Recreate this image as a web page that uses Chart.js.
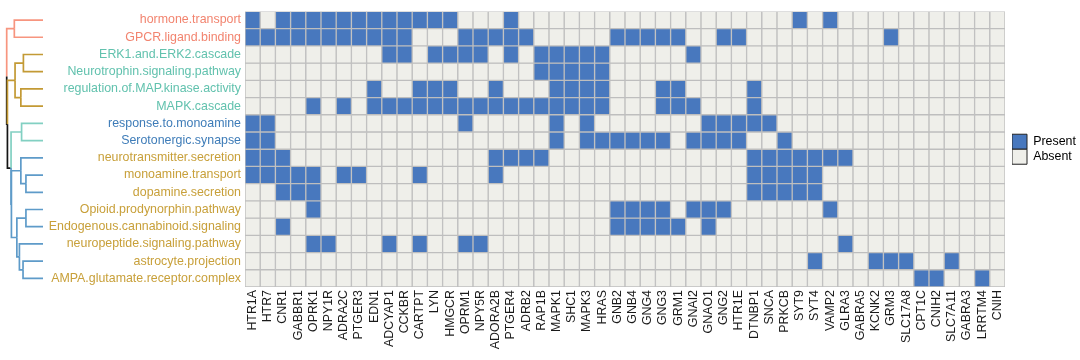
<!DOCTYPE html>
<html>
<head>
<meta charset="utf-8">
<script src="https://cdn.jsdelivr.net/npm/chart.js@4"></script>
<style>
  html, body { margin: 0; padding: 0; background: #fff; }
  #wrap { width: 1080px; height: 360px; }
</style>
</head>
<body>
<div id="wrap"><canvas id="mycanvas"></canvas></div>
<script>
var genes = ['HTR1A', 'HTR7', 'CNR1', 'GABBR1', 'OPRK1', 'NPY1R', 'ADRA2C', 'PTGER3', 'EDN1', 'ADCYAP1',
  'CCKBR', 'CARTPT', 'LYN', 'HMGCR', 'OPRM1', 'NPY5R', 'ADORA2B', 'PTGER4', 'ADRB2', 'RAP1B',
  'MAPK1', 'SHC1', 'MAPK3', 'HRAS', 'GNB2', 'GNB4', 'GNG4', 'GNG3', 'GRM1', 'GNAI2',
  'GNAO1', 'GNG2', 'HTR1E', 'DTNBP1', 'SNCA', 'PRKCB', 'SYT9', 'SYT4', 'VAMP2', 'GLRA3',
  'GABRA5', 'KCNK2', 'GRM3', 'SLC17A8', 'CPT1C', 'CNIH2', 'SLC7A11', 'GABRA3', 'LRRTM4', 'CNIH'];

var pathways = ['hormone.transport', 'GPCR.ligand.binding', 'ERK1.and.ERK2.cascade',
  'Neurotrophin.signaling.pathway', 'regulation.of.MAP.kinase.activity', 'MAPK.cascade',
  'response.to.monoamine', 'Serotonergic.synapse', 'neurotransmitter.secretion',
  'monoamine.transport', 'dopamine.secretion', 'Opioid.prodynorphin.pathway',
  'Endogenous.cannabinoid.signaling', 'neuropeptide.signaling.pathway',
  'astrocyte.projection', 'AMPA.glutamate.receptor.complex'];

var pathwayColors = ['#F2846F', '#F2846F', '#62C2AE', '#62C2AE', '#62C2AE', '#62C2AE',
  '#3E7CB8', '#3E7CB8', '#C8A03A', '#C8A03A', '#C8A03A', '#C8A03A', '#C8A03A', '#C8A03A',
  '#C8A03A', '#C8A03A'];

// column indices (into genes) that are "Present" for each pathway
var hits = [
  [0, 2, 3, 4, 5, 6, 7, 8, 9, 10, 11, 12, 13, 17, 36, 38],
  [0, 1, 2, 3, 4, 5, 6, 7, 8, 9, 10, 14, 15, 16, 17, 18, 24, 25, 26, 27, 28, 31, 32, 42],
  [9, 10, 12, 13, 14, 15, 17, 19, 20, 21, 22, 23, 29],
  [19, 20, 21, 22, 23],
  [8, 11, 12, 13, 16, 20, 21, 22, 23, 27, 28, 33],
  [4, 6, 8, 9, 10, 11, 12, 13, 14, 15, 16, 17, 18, 19, 20, 21, 22, 23, 27, 28, 29, 33],
  [0, 1, 14, 20, 22, 30, 31, 32, 33, 34],
  [0, 1, 20, 22, 23, 24, 25, 26, 27, 29, 30, 31, 32, 35],
  [0, 1, 2, 16, 17, 18, 19, 33, 34, 35, 36, 37, 38, 39],
  [0, 1, 2, 3, 4, 6, 7, 11, 16, 33, 34, 35, 36, 37],
  [2, 3, 4, 33, 34, 35, 36, 37],
  [4, 24, 25, 26, 27, 29, 30, 31, 38],
  [2, 24, 25, 26, 27, 28, 30],
  [4, 5, 9, 11, 14, 15, 39],
  [37, 41, 42, 43, 46],
  [44, 45, 48]
];

// row clustering: leaves are pathway indices, h is merge height (root = 1)
var tree = {h: 1.00, kids: [
  {h: 0.79, color: 'salmon', kids: [0, 1]},
  {h: 0.98, kids: [
    {h: 0.77, color: 'gold', kids: [{h: 0.54, kids: [2, 3]}, {h: 0.61, kids: [4, 5]}]},
    {h: 0.88, kids: [
      {h: 0.59, color: 'teal', kids: [6, 7]},
      {h: 0.87, color: 'blue', kids: [
        {h: 0.61, kids: [8, {h: 0.47, kids: [9, 10]}]},
        {h: 0.72, kids: [{h: 0.47, kids: [11, 12]}, {h: 0.65, kids: [13, {h: 0.55, kids: [14, 15]}]}]}
      ]}
    ]}
  ]}
]};

var presentColor = '#4878BE';
var absentColor = '#EFEFEA';
var branchColors = {black: '#151515', salmon: '#F7957F', gold: '#C39A35', teal: '#82D0C2', blue: '#5E9BC9'};

var n = pathways.length;
var datasets = pathways.map(function(p, r) {
  return {
    label: p,
    data: genes.map(function() { return [n - 1 - r, n - r]; }),
    backgroundColor: genes.map(function(g, c) { return hits[r].indexOf(c) >= 0 ? presentColor : absentColor; }),
    borderColor: '#BEBEBE',
    borderWidth: 1,
    borderSkipped: false,
    grouped: false,
    categoryPercentage: 1,
    barPercentage: 1
  };
});

var dendroPlugin = {
  id: 'dendro',
  afterDraw: function(chart) {
    var ctx = chart.ctx, ys = chart.scales.y;
    var xLeaf = 43, xRoot = 6.7;
    function xOf(h) { return xLeaf - h * (xLeaf - xRoot); }
    function place(node) {
      if (typeof node === 'number') return {x: xLeaf, y: ys.getPixelForValue(n - 0.5 - node)};
      node.pts = node.kids.map(place);
      node.px = xOf(node.h);
      node.py = (node.pts[0].y + node.pts[node.pts.length - 1].y) / 2;
      return {x: node.px, y: node.py};
    }
    function draw(node, inherited) {
      node.kids.forEach(function(k, i) {
        var c = (typeof k === 'object' && k.color) ? k.color : inherited;
        var p = node.pts[i];
        ctx.strokeStyle = branchColors[c];
        ctx.beginPath();
        ctx.moveTo(node.px, node.py);
        ctx.lineTo(node.px, p.y);
        ctx.lineTo(p.x, p.y);
        ctx.stroke();
        if (typeof k === 'object') draw(k, c);
      });
    }
    place(tree);
    ctx.save();
    ctx.lineWidth = 1.7;
    draw(tree, 'black');
    ctx.restore();
  }
};

Chart.defaults.font.family = "'Liberation Sans', Arial, sans-serif";
Chart.defaults.font.size = 12.4;

var ctx = document.getElementById('mycanvas');
var heatmap = new Chart(ctx, {
  type: 'bar',
  data: { labels: genes, datasets: datasets },
  options: {
    responsive: true,
    maintainAspectRatio: false,
    animation: false,
    layout: { padding: { top: 7, left: 0, right: 0, bottom: 0 } },
    plugins: {
      tooltip: { enabled: false },
      legend: {
        position: 'right',
        fullSize: false,
        maxWidth: 68,
        onClick: null,
        labels: {
          boxWidth: 15,
          boxHeight: 15,
          padding: 0,
          color: '#111',
          generateLabels: function() {
            return [
              { text: 'Present', fillStyle: presentColor, strokeStyle: '#222', lineWidth: 1 },
              { text: 'Absent', fillStyle: absentColor, strokeStyle: '#222', lineWidth: 1 }
            ];
          }
        }
      }
    },
    scales: {
      x: {
        grid: { display: false, drawTicks: false },
        border: { display: false },
        ticks: { minRotation: 90, maxRotation: 90, autoSkip: false, padding: 3, color: '#1a1a1a' },
        afterFit: function(axis) { axis.height = 73; }
      },
      y: {
        min: 0,
        max: n,
        grid: { display: false, drawTicks: false },
        border: { display: false },
        afterBuildTicks: function(axis) {
          axis.ticks = pathways.map(function(p, i) { return { value: n - 0.5 - i }; });
        },
        ticks: {
          autoSkip: false,
          padding: 4,
          callback: function(v, i) { return pathways[i]; },
          color: function(c) { return pathwayColors[c.index]; }
        },
        afterFit: function(axis) { axis.width = 245; }
      },
      gap: {
        type: 'linear',
        position: 'right',
        grid: { display: false },
        border: { display: false },
        ticks: { display: false },
        afterFit: function(axis) { axis.width = 7; }
      }
    }
  },
  plugins: [dendroPlugin]
});
</script>
</body>
</html>
